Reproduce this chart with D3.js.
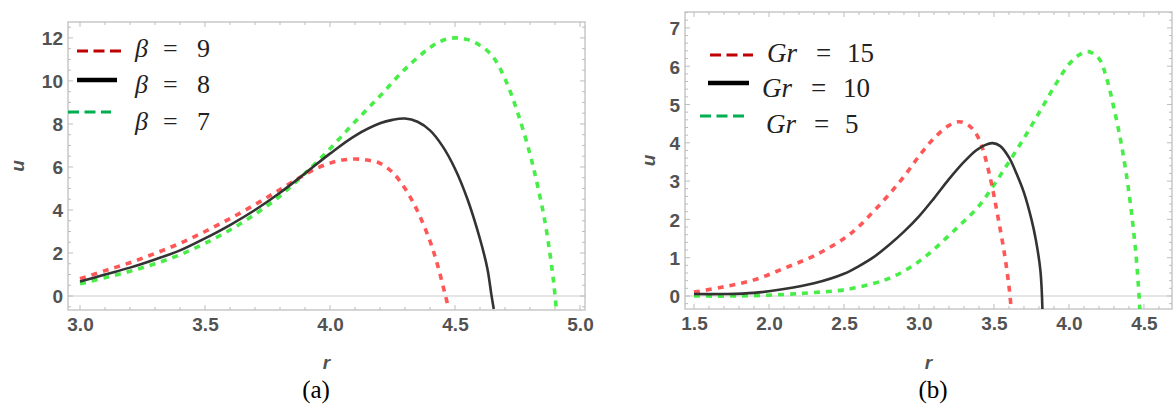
<!DOCTYPE html>
<html>
<head>
<meta charset="utf-8">
<script src="https://cdn.jsdelivr.net/npm/d3@7"></script>
<style>
  html, body { margin: 0; padding: 0; background: #fff; }
  svg { display: block; }
</style>
</head>
<body>
<svg id="chart" width="1173" height="415"></svg>
<script>
// Panel (a): u against r for three values of beta  [r, u]
const beta9 = [[3.0,0.8],[3.1,1.18],[3.2,1.55],[3.3,1.98],[3.4,2.45],[3.5,3.0],[3.6,3.6],[3.7,4.25],
  [3.8,4.95],[3.9,5.65],[3.95,5.95],[4.0,6.18],[4.05,6.32],[4.1,6.37],[4.15,6.32],[4.2,6.17],
  [4.25,5.75],[4.3,5.0],[4.35,3.95],[4.4,2.55],[4.43,1.45],[4.46,0.1],[4.475,-0.6]];
const beta8 = [[3.0,0.67],[3.1,1.0],[3.2,1.32],[3.3,1.7],[3.4,2.12],[3.5,2.68],[3.6,3.3],[3.7,4.0],
  [3.8,4.8],[3.9,5.7],[4.0,6.62],[4.1,7.45],[4.2,8.03],[4.25,8.19],[4.3,8.25],[4.35,8.1],
  [4.4,7.7],[4.45,6.97],[4.5,5.92],[4.55,4.5],[4.6,2.65],[4.63,1.25],[4.645,0.1],[4.655,-0.6]];
const beta7 = [[3.0,0.57],[3.1,0.85],[3.2,1.15],[3.3,1.5],[3.4,1.92],[3.5,2.45],[3.6,3.07],[3.7,3.8],
  [3.8,4.65],[3.9,5.7],[4.0,6.85],[4.1,8.1],[4.2,9.3],[4.3,10.55],[4.4,11.55],[4.45,11.88],
  [4.5,12.0],[4.55,11.92],[4.6,11.65],[4.65,11.15],[4.7,10.1],[4.75,8.55],[4.8,6.6],[4.83,5.15],
  [4.86,3.45],[4.88,1.95],[4.895,0.6],[4.905,-0.6]];

// Panel (b): u against r for three values of Gr  [r, u]
const gr15 = [[1.5,0.1],[1.7,0.24],[1.9,0.42],[2.1,0.72],[2.3,1.05],[2.5,1.5],[2.6,1.82],[2.7,2.22],
  [2.8,2.65],[2.9,3.12],[3.0,3.65],[3.1,4.12],[3.2,4.45],[3.27,4.55],[3.33,4.46],[3.37,4.3],
  [3.4,4.1],[3.43,3.78],[3.48,3.0],[3.52,2.2],[3.57,1.1],[3.6,0.25],[3.615,-0.34]];
const gr10 = [[1.5,0.05],[1.7,0.05],[1.9,0.08],[2.1,0.18],[2.3,0.33],[2.5,0.58],[2.6,0.78],[2.7,1.02],
  [2.8,1.33],[2.9,1.68],[3.0,2.08],[3.1,2.55],[3.2,3.05],[3.3,3.5],[3.38,3.8],[3.44,3.94],
  [3.49,3.99],[3.54,3.92],[3.6,3.62],[3.65,3.2],[3.7,2.7],[3.75,2.0],[3.78,1.45],[3.81,0.65],[3.823,-0.34]];
const gr5 = [[1.5,0.0],[1.8,0.0],[2.1,0.04],[2.3,0.09],[2.5,0.16],[2.7,0.33],[2.8,0.46],[2.9,0.65],
  [3.0,0.9],[3.1,1.22],[3.2,1.58],[3.3,1.95],[3.4,2.35],[3.5,2.9],[3.6,3.5],[3.7,4.12],
  [3.8,4.78],[3.9,5.45],[4.0,6.05],[4.07,6.3],[4.13,6.38],[4.2,6.2],[4.25,5.7],[4.3,4.9],
  [4.35,3.95],[4.4,2.7],[4.445,1.16],[4.467,0.03],[4.472,-0.34]];

// Tick labels
const xTicksA = [3.0, 3.5, 4.0, 4.5, 5.0];
const yTicksA = [0, 2, 4, 6, 8, 10, 12];
const xTicksB = [1.5, 2.0, 2.5, 3.0, 3.5, 4.0, 4.5];
const yTicksB = [0, 1, 2, 3, 4, 5, 6, 7];

const svg = d3.select('#chart');

const palette = {
    curveRed: 'rgba(255,40,40,0.78)',
    curveGreen: 'rgba(40,235,40,0.85)',
    curveBlack: '#333',
    keyRed: '#c00000',
    keyGreen: '#00b050',
    keyBlack: '#000'
};

function drawPanel(p) {
    const g = svg.append('g');
    const x = d3.scaleLinear().domain(p.xDomain).range([p.left, p.right]);
    const y = d3.scaleLinear().domain(p.yDomain).range([p.bottom, p.top]);

    const clipId = 'clip-' + p.id;
    g.append('clipPath').attr('id', clipId)
        .append('rect')
        .attr('x', p.left).attr('y', p.top)
        .attr('width', p.right - p.left).attr('height', p.bottom - p.top);

    // zero line
    g.append('line')
        .attr('x1', p.left).attr('x2', p.right)
        .attr('y1', y(0)).attr('y2', y(0))
        .attr('stroke', '#dcdcdc').attr('stroke-width', 1.5);

    // frame
    g.append('rect')
        .attr('x', p.left).attr('y', p.top)
        .attr('width', p.right - p.left).attr('height', p.bottom - p.top)
        .attr('fill', 'none').attr('stroke', '#c8c8c8').attr('stroke-width', 1.5);

    // frame ticks (inside, all four sides)
    const tickColor = '#bdbdbd';
    const xMinor = d3.range(Math.ceil(p.xDomain[0] / p.xMinor) * p.xMinor, p.xDomain[1], p.xMinor);
    const yMinor = d3.range(Math.ceil(p.yDomain[0] / p.yMinor) * p.yMinor, p.yDomain[1], p.yMinor);
    const isMajor = (v, ticks) => ticks.some(t => Math.abs(t - v) < 1e-6);
    xMinor.forEach(v => {
        const len = isMajor(v, p.xTicks) ? 5 : 3;
        g.append('line').attr('x1', x(v)).attr('x2', x(v))
            .attr('y1', p.bottom).attr('y2', p.bottom - len)
            .attr('stroke', tickColor).attr('stroke-width', 1);
        g.append('line').attr('x1', x(v)).attr('x2', x(v))
            .attr('y1', p.top).attr('y2', p.top + len)
            .attr('stroke', tickColor).attr('stroke-width', 1);
    });
    yMinor.forEach(v => {
        const len = isMajor(v, p.yTicks) ? 5 : 3;
        g.append('line').attr('y1', y(v)).attr('y2', y(v))
            .attr('x1', p.left).attr('x2', p.left + len)
            .attr('stroke', tickColor).attr('stroke-width', 1);
        g.append('line').attr('y1', y(v)).attr('y2', y(v))
            .attr('x1', p.right).attr('x2', p.right - len)
            .attr('stroke', tickColor).attr('stroke-width', 1);
    });

    // tick labels through d3 axes, lines hidden
    const xAxis = g.append('g')
        .attr('transform', `translate(0,${p.bottom})`)
        .call(d3.axisBottom(x).tickValues(p.xTicks).tickFormat(d3.format('.1f')).tickSize(0).tickPadding(8));
    const yAxis = g.append('g')
        .attr('transform', `translate(${p.left},0)`)
        .call(d3.axisLeft(y).tickValues(p.yTicks).tickFormat(d3.format('d')).tickSize(0).tickPadding(5));
    [xAxis, yAxis].forEach(a => {
        a.select('.domain').remove();
        a.selectAll('text')
            .attr('font-family', 'Liberation Sans, Arial, sans-serif')
            .attr('font-size', 19).attr('font-weight', 'bold')
            .attr('fill', '#525252');
    });
    yAxis.selectAll('text').attr('dy', '0.36em');

    // axis titles
    g.append('text')
        .attr('transform', `translate(${p.uX},${(p.top + p.bottom) / 2}) rotate(-90)`)
        .attr('text-anchor', 'middle').attr('dy', '0.3em')
        .attr('font-family', 'Liberation Sans, Arial, sans-serif')
        .attr('font-size', 19).attr('font-weight', 'bold').attr('font-style', 'italic')
        .attr('fill', '#525252')
        .text('u');
    g.append('text')
        .attr('x', (p.left + p.right) / 2).attr('y', 369)
        .attr('text-anchor', 'middle')
        .attr('font-family', 'Liberation Sans, Arial, sans-serif')
        .attr('font-size', 19).attr('font-weight', 'bold').attr('font-style', 'italic')
        .attr('fill', '#525252')
        .text('r');

    // curves
    const line = d3.line()
        .x(d => x(d[0])).y(d => y(d[1]))
        .curve(d3.curveCatmullRom.alpha(0.5));
    const curves = g.append('g').attr('clip-path', `url(#${clipId})`);
    p.series.forEach(s => {
        curves.append('path')
            .datum(s.data)
            .attr('d', line)
            .attr('fill', 'none')
            .attr('stroke', s.color)
            .attr('stroke-width', s.dashed ? 3.6 : 2.6)
            .attr('stroke-dasharray', s.dashed ? '6,6' : null);
    });

    // legend
    const key = g.append('g');
    p.legend.forEach(k => {
        key.append('line')
            .attr('x1', k.x1).attr('x2', k.x2)
            .attr('y1', k.y).attr('y2', k.y)
            .attr('stroke', k.color)
            .attr('stroke-width', k.dashed ? 3 : 4.5)
            .attr('stroke-dasharray', k.dashed ? '11,5.5' : null);
        const t = key.append('text')
            .attr('y', k.base)
            .attr('font-family', 'Liberation Serif, Times New Roman, serif')
            .attr('font-size', p.keySize)
            .attr('fill', '#222');
        t.append('tspan').attr('x', k.tx).attr('font-style', 'italic').text(k.sym);
        t.append('tspan').attr('x', k.eqx).text('=');
        t.append('tspan').attr('x', k.vx).text(k.val);
    });

    // caption
    g.append('text')
        .attr('x', p.capX).attr('y', 398)
        .attr('text-anchor', 'middle')
        .attr('font-family', 'Liberation Serif, Times New Roman, serif')
        .attr('font-size', 25)
        .attr('fill', '#000')
        .text(p.caption);
}

drawPanel({
    id: 'a',
    left: 68, right: 585, top: 22, bottom: 310,
    xDomain: [2.952, 5.02], yDomain: [-0.65, 12.74],
    xTicks: xTicksA, yTicks: yTicksA, xMinor: 0.1, yMinor: 0.5,
    uX: 18, capX: 316, caption: '(a)', keySize: 26,
    series: [
        { data: beta7, color: palette.curveGreen, dashed: true },
        { data: beta9, color: palette.curveRed, dashed: true },
        { data: beta8, color: palette.curveBlack, dashed: false }
    ],
    legend: [
        { x1: 77, x2: 122, y: 51, color: palette.keyRed, dashed: true, base: 57, tx: 135, eqx: 163, vx: 197, sym: 'β', val: '9' },
        { x1: 77, x2: 117, y: 80, color: palette.keyBlack, dashed: false, base: 93, tx: 135, eqx: 163, vx: 197, sym: 'β', val: '8' },
        { x1: 68, x2: 111, y: 112, color: palette.keyGreen, dashed: true, base: 130, tx: 135, eqx: 163, vx: 197, sym: 'β', val: '7' }
    ]
});

drawPanel({
    id: 'b',
    left: 685, right: 1172, top: 12, bottom: 309,
    xDomain: [1.44, 4.687], yDomain: [-0.34, 7.415],
    xTicks: xTicksB, yTicks: yTicksB, xMinor: 0.1, yMinor: 0.2,
    uX: 649, capX: 933, caption: '(b)', keySize: 27,
    series: [
        { data: gr5, color: palette.curveGreen, dashed: true },
        { data: gr15, color: palette.curveRed, dashed: true },
        { data: gr10, color: palette.curveBlack, dashed: false }
    ],
    legend: [
        { x1: 710, x2: 753, y: 55, color: palette.keyRed, dashed: true, base: 62, tx: 767, eqx: 816, vx: 847, sym: 'Gr', val: '15' },
        { x1: 708, x2: 749, y: 83, color: palette.keyBlack, dashed: false, base: 97, tx: 762, eqx: 811, vx: 843, sym: 'Gr', val: '10' },
        { x1: 700, x2: 744, y: 116, color: palette.keyGreen, dashed: true, base: 133, tx: 766, eqx: 814, vx: 845, sym: 'Gr', val: '5' }
    ]
});
</script>
</body>
</html>
